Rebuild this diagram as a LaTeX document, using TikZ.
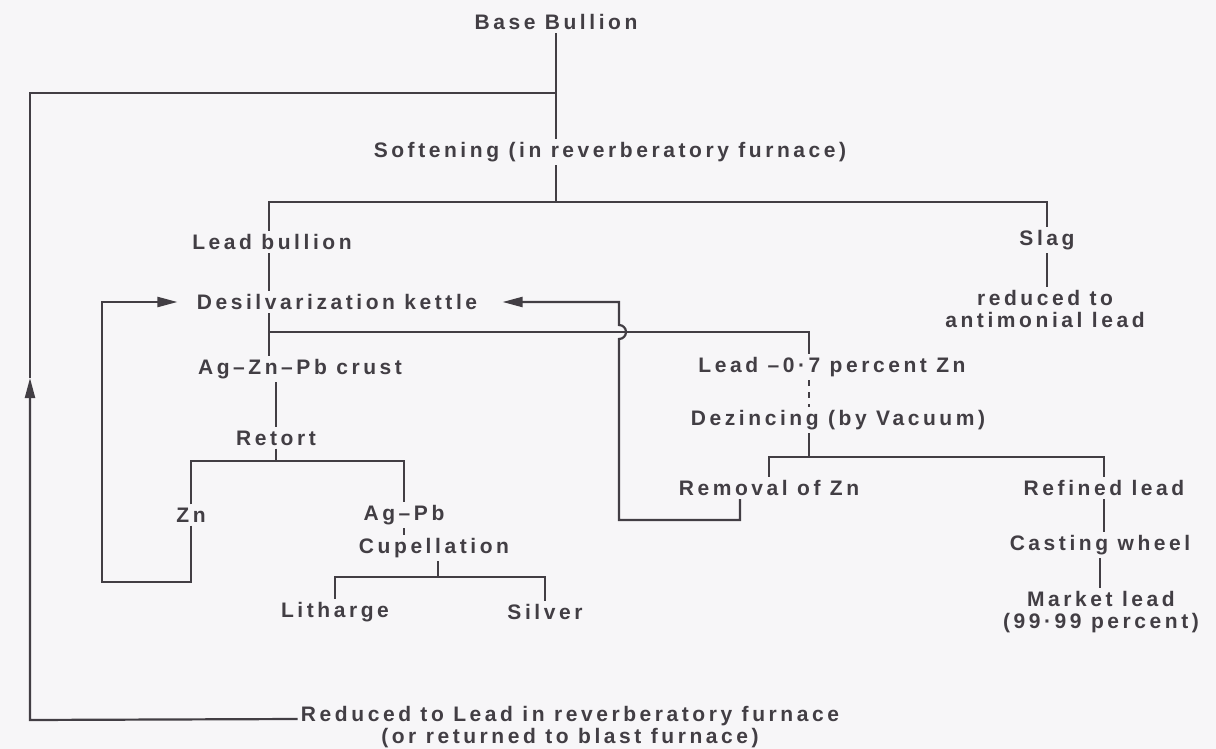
\documentclass[tikz,border=0pt]{standalone}
\usepackage{fontspec}
\setmainfont{Liberation Sans}[LetterSpace=17]
\usetikzlibrary{arrows.meta,calc}

\definecolor{inkgray}{RGB}{66,62,68}
\definecolor{paper}{RGB}{247,246,248}

\tikzset{
  lbl/.style={font=\fontsize{10.5}{11}\selectfont\bfseries, text=inkgray, inner sep=1.5pt},
  flow/.style={draw=inkgray, line width=1.1pt},
  back/.style={flow, -{Triangle[length=10pt,width=5pt]}}
}

\begin{document}
\begin{tikzpicture}[x=0.5pt,y=-0.5pt]
\fill[paper] (0,0) rectangle (1216,749);
\useasboundingbox (0,0) rectangle (1216,749);

% main stages
\node[lbl] (base) at (556,22) {Base Bullion};
\node[lbl] (soft) at (610,152) {Softening (in reverberatory furnace)};
\node[lbl] (lead) at (272,242) {Lead bullion};
\node[lbl] (slag) at (1047,240) {Slag};
\node[lbl, align=center] (anti) at (1045,309) {reduced to\\antimonial lead};
\node[lbl] (desil) at (337,302) {Desilvarization kettle};
\node[lbl] (crust) at (300,369) {Ag--Zn--Pb crust};
\node[lbl] (retort) at (276,438) {Retort};
\node[lbl] (zn) at (191,515) {Zn};
\node[lbl] (agpb) at (404,515) {Ag--Pb};
\node[lbl] (cupel) at (434,548) {Cupellation};
\node[lbl] (lith) at (335,612) {Litharge};
\node[lbl] (silver) at (545,612) {Silver};
\node[lbl] (leadzn) at (832,367) {Lead --0·7 percent Zn};
\node[lbl] (dezinc) at (838,420) {Dezincing (by Vacuum)};
\node[lbl] (remzn) at (769,488) {Removal of Zn};
\node[lbl] (refined) at (1104,488) {Refined lead};
\node[lbl] (cast) at (1100,545) {Casting wheel};
\node[lbl, align=center] (market) at (1101,612) {Market lead\\(99·99 percent)};
\node[lbl, align=center] (reduced) at (570,727) {Reduced to Lead in reverberatory furnace\\(or returned to blast furnace)};

% junctions
\coordinate (c1) at (556,93);
\coordinate (c2) at (556,202);
\coordinate (c3) at (269,332);
\coordinate (c4) at (809,332);
\coordinate (c5) at (809,457);
\coordinate (c6) at (276,461);
\coordinate (c7) at (438,577);

\draw[flow] (base.south) -- (base.south |- soft.north);
\draw[flow] (base.south |- soft.south) -- (c2);
\draw[flow] (lead.north -| c3) |- (c2) -| (slag.north);
\draw[flow] (slag.south) -- (slag.south |- anti.north);
\draw[flow] (lead.south -| c3) -- (c3 |- desil.north);
\draw[flow] (c3 |- desil.south) -- (c3 |- crust.north);
\draw[flow] (c3) -- (c4) -- (c4 |- leadzn.north);
\draw[flow, dashed] (c4 |- leadzn.south) -- (c4 |- dezinc.north);
\draw[flow] (c4 |- dezinc.south) -- (c5);
\draw[flow] (remzn.north) |- (c5) -| (refined.north);
\draw[flow] (refined.south) -- (refined.south |- cast.north);
\draw[flow] (cast.south) -- (cast.south |- market.north);

% retort branch
\draw[flow] (crust.south -| retort) -- (retort.north);
\draw[flow] (retort.south) -- (c6);
\draw[flow] (zn.north) |- (c6) -| (agpb.north);
\draw[flow] (agpb.south) -- (agpb.south |- cupel.north);
\draw[flow] (cupel.south -| c7) -- (c7);
\draw[flow] (lith.north) |- (c7) -| (silver.north);

% return loops
\coordinate (zl) at (102,582);
\draw[back, shorten >=8pt] (zn.south) |- (zl) |- (desil.west);

\coordinate (rl) at (740,520);
\coordinate (hb) at (619,339);
\draw[back, shorten >=11pt] (remzn.south -| rl) -- (rl) -| (hb)
  arc[start angle=90, end angle=-90, radius=7] |- (desil.east);

\coordinate (rl0) at ($(reduced.west)+(0,-8)$);
\coordinate (lc) at (30,720);
\coordinate (la) at (30,378);
\draw[back] (rl0) -- (lc) -- (la);
\draw[flow] (la) |- (c1);

\end{tikzpicture}
\end{document}
